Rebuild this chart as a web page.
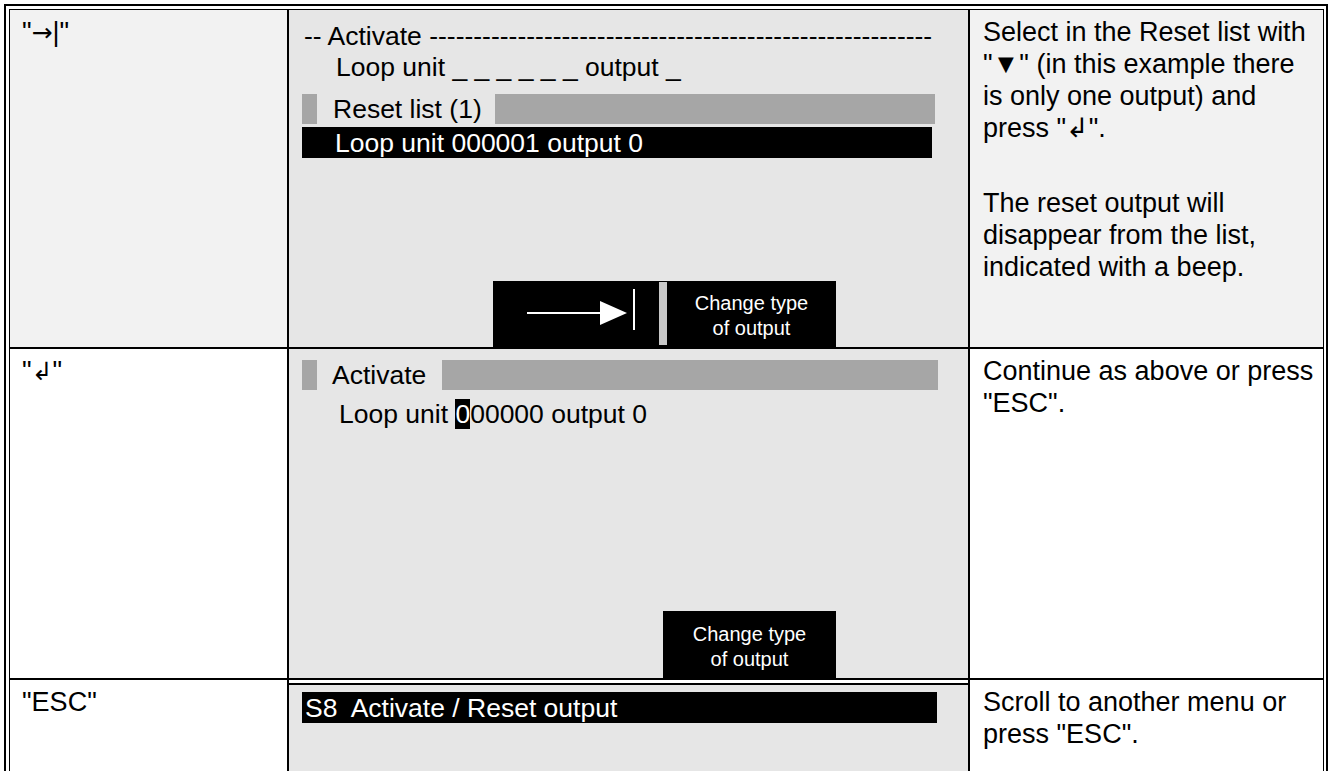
<!DOCTYPE html>
<html>
<head>
<meta charset="utf-8">
<script src="https://cdn.jsdelivr.net/npm/chart.js@4.4.1/dist/chart.umd.min.js"></script>
<style>
  body { margin: 0; width: 1329px; height: 771px; overflow: hidden; background: #fff;
         font-family: "Liberation Sans", Arial, "DejaVu Sans", sans-serif; color: #000; position: relative; }
  .a { position: absolute; }
  .k { background: #000; }
  .g { background: #a6a6a6; }
  .scr { background: #e6e6e6; }
  .pale { background: #f2f2f2; }
  .t { position: absolute; white-space: pre; font-size: 26.5px; line-height: 24px; }
  .desc { position: absolute; white-space: pre; font-size: 27px; line-height: 30px; }
  .soft { position: absolute; white-space: pre; font-size: 20px; line-height: 24px; color: #fff; text-align: center; }
  .w { color: #fff; }
  .sym { font-family: "DejaVu Sans", sans-serif; font-size: 25px; }
</style>
</head>
<body>
<script>
// key column, one entry per row
const keys = ['"\u2192|"', '"\u21B2"', '"ESC"'];

// explanation column, already split in lines as in the manual
const descriptions = [
  ['Select in the Reset list with', '"\u25BC" (in this example there', 'is only one output) and', 'press "\u21B2".', '', 'The reset output will', 'disappear from the list,', 'indicated with a beep.'],
  ['Continue as above or press', '"ESC".'],
  ['Scroll to another menu or', 'press "ESC".']
];

// display texts
const screen1 = ['-- Activate ' + '-'.repeat(57), 'Loop unit _ _ _ _ _ _ output _', 'Reset list (1)', 'Loop unit 000001 output 0'];
const screen2 = ['Activate', 'Loop unit ', '0', '00000 output 0'];
const screen3 = ['S8  Activate / Reset output'];
const softkey = ['Change type', 'of output'];

const rowTops = [10, 349, 680];

function box(x, y, w, h, cls) {
  const d = document.createElement('div');
  d.className = 'a ' + cls;
  Object.assign(d.style, { left: x + 'px', top: y + 'px', width: w + 'px', height: h + 'px' });
  document.body.appendChild(d);
  return d;
}
function text(str, x, cy, cls, lh) {
  const d = document.createElement('div');
  d.className = cls;
  d.textContent = str;
  d.style.left = x + 'px';
  d.style.top = (cy - lh / 2) + 'px';
  document.body.appendChild(d);
  return d;
}

// cell backgrounds
box(10, 10, 277, 337, 'pale');
box(970, 10, 353, 337, 'pale');
box(289, 10, 679, 337, 'scr');
box(289, 349, 679, 329, 'scr');
box(289, 685, 679, 90, 'scr');

// outer double frame
box(4, 4, 1324, 2, 'k');
box(4, 4, 2, 780, 'k');
box(1326, 4, 2, 780, 'k');
box(9, 9, 1315, 1, 'k');
box(9, 9, 1, 780, 'k');
box(1323, 9, 1, 780, 'k');

// grid
box(287, 10, 2, 780, 'k');
box(968, 10, 2, 780, 'k');
box(10, 347, 1313, 2, 'k');
box(10, 678, 1313, 2, 'k');
box(289, 683, 679, 2, 'k');

// key column: arrow glyphs taken from DejaVu, which draws them larger
keys.forEach((k, i) => {
  const d = text('', 22, rowTops[i] + 22, 'desc', 30);
  for (const ch of k) {
    if (ch === '\u2192' || ch === '\u21B2') {
      const s = document.createElement('span');
      s.className = 'sym';
      s.textContent = ch;
      d.appendChild(s);
    } else {
      d.appendChild(document.createTextNode(ch));
    }
  }
});
descriptions.forEach((lines, i) => {
  let y = rowTops[i] + 22;
  lines.forEach(l => {
    if (l === '') { y += 43; return; }
    text(l, 983, y, 'desc', 30);
    y += 32;
  });
});

// screen 1
text(screen1[0], 304, 36, 't', 24);
text(screen1[1], 336, 67, 't', 24);
box(302, 94, 15, 30, 'g');
text(screen1[2], 333, 109, 't', 24);
box(495, 94, 440, 30, 'g');
box(302, 127, 630, 31, 'k');
text(screen1[3], 335, 143, 't w', 24);

// softkey bar with arrow
box(493, 281, 343, 66, 'k');
box(527, 312, 74, 2, '').style.background = '#fff';
const tri = box(600, 301, 0, 0, '');
Object.assign(tri.style, { borderLeft: '27px solid #fff', borderTop: '12px solid transparent', borderBottom: '12px solid transparent' });
box(633, 289, 2, 41, '').style.background = '#fff';
box(659, 282, 8, 63, '').style.background = '#c8c8c8';
softkey.forEach((s, j) => {
  const d = text(s, 667, 303 + j * 25, 'soft', 24);
  d.style.width = '169px';
});

// screen 2
box(302, 360, 15, 30, 'g');
text(screen2[0], 332, 375, 't', 24);
box(442, 360, 496, 30, 'g');
const l2 = text('', 339, 414, 't', 24);
l2.appendChild(document.createTextNode(screen2[1]));
const hl = document.createElement('span');
hl.textContent = screen2[2];
hl.style.background = '#000';
hl.style.color = '#fff';
l2.appendChild(hl);
l2.appendChild(document.createTextNode(screen2[3]));
box(663, 611, 173, 67, 'k');
softkey.forEach((s, j) => {
  const d = text(s, 663, 634 + j * 25, 'soft', 24);
  d.style.width = '173px';
});

// screen 3
box(302, 692, 635, 31, 'k');
text(screen3[0], 305, 708, 't w', 24);
</script>
</body>
</html>
